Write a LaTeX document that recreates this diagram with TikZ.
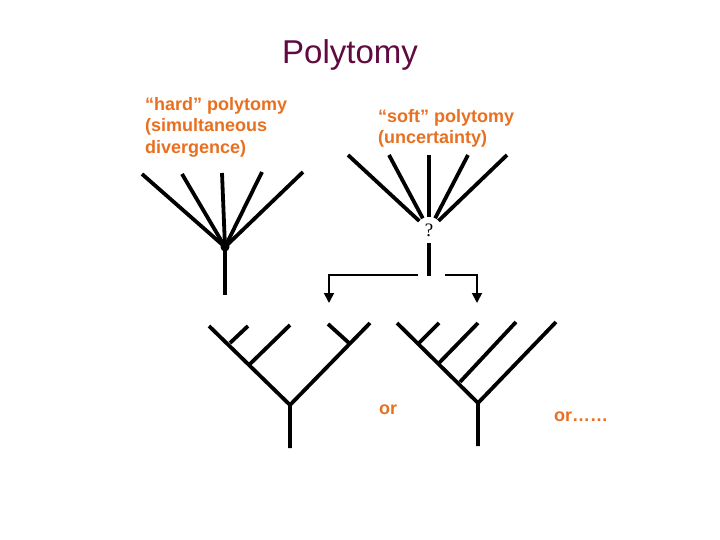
\documentclass[tikz,border=0pt]{standalone}
\usepackage{fontspec}
\setmainfont{Liberation Sans}
\newfontfamily\queryfont{Liberation Serif}
\usetikzlibrary{arrows.meta,positioning,calc}
\definecolor{titlePlum}{RGB}{96, 10, 64}
\definecolor{labelOrange}{RGB}{232, 112, 32}
\tikzset{
  branch/.style={line width=3.8pt},
  pointer/.style={line width=1.8pt, -{Triangle[length=10pt,width=10pt]}},
  caption/.style={text=labelOrange, font=\fontsize{18pt}{21.5pt}\selectfont\bfseries, align=left, inner sep=0pt}
}
\begin{document}
\begin{tikzpicture}[x=1pt,y=-1pt]
\useasboundingbox[fill=white] (0,0) rectangle (720,540);

% title and captions
\node[font=\fontsize{33pt}{36pt}\selectfont, text=titlePlum] (title) at (350,55) {Polytomy};
\node[caption, anchor=north west] (hardcap) at (145,97) {``hard'' polytomy\\(simultaneous\\divergence)};
\node[caption, anchor=north west] (softcap) at (378,109) {``soft'' polytomy\\(uncertainty)};

% hard polytomy
\coordinate (hardroot) at (225,247);
\coordinate (hardbase) at (225,295);
\coordinate (hl1) at (142,174);
\coordinate (hl2) at (182,174);
\coordinate (hl3) at (222,173);
\coordinate (hl4) at (262,172);
\coordinate (hl5) at (303,172);
\foreach \i in {1,...,5}
  \draw[branch] (hardroot) -- (hl\i);
\draw[branch] (hardroot) -- (hardbase);
\fill (hardroot) circle (4.5pt);

% soft polytomy
\node[circle, minimum size=26pt, inner sep=0pt, font=\queryfont\fontsize{19pt}{19pt}\selectfont] (query) at (429,230) {?};
\coordinate (sl1) at (348,155);
\coordinate (sl2) at (389,155);
\coordinate (sl3) at (429,155);
\coordinate (sl4) at (468,155);
\coordinate (sl5) at (507,155);
\foreach \i in {1,...,5}
  \draw[branch] (sl\i) -- (query);
\coordinate (softjoin) at (429,276);
\draw[branch] (query) -- (softjoin);

% the two resolutions
\coordinate (leftgap) at (418,275);
\coordinate (rightgap) at (445,275);
\coordinate (lefttip) at (329,303);
\coordinate (righttip) at (477,303);
\draw[pointer] (leftgap) -| (lefttip);
\draw[pointer] (rightgap) -| (righttip);

% first resolved tree
\coordinate (aroot) at (290,405);
\coordinate (abase) at (290,448);
\coordinate (aleft) at (209,326);
\coordinate (aright) at (370,323);
\coordinate (ak1) at (230,343);
\coordinate (ak2) at (250,364);
\coordinate (ak3) at (349,343);
\coordinate (at1) at (248,326);
\coordinate (at2) at (290,325);
\coordinate (at3) at (328,324);
\draw[branch] (abase) -- (aroot) -- (aleft);
\draw[branch] (aroot) -- (aright);
\foreach \i in {1,2,3}
  \draw[branch] (ak\i) -- (at\i);

% second resolved tree
\coordinate (broot) at (478,403);
\coordinate (bbase) at (478,446);
\coordinate (bleft) at (397,323);
\coordinate (bright) at (556,322);
\coordinate (bk1) at (419,343);
\coordinate (bk2) at (439,363);
\coordinate (bk3) at (460,382);
\coordinate (bt1) at (439,323);
\coordinate (bt2) at (478,323);
\coordinate (bt3) at (516,322);
\draw[branch] (bbase) -- (broot) -- (bleft);
\draw[branch] (broot) -- (bright);
\foreach \i in {1,2,3}
  \draw[branch] (bk\i) -- (bt\i);

\node[caption] (orone) at (388,410) {or};
\node[caption] (ormore) at (581,417) {or\ldots\ldots};
\end{tikzpicture}
\end{document}
